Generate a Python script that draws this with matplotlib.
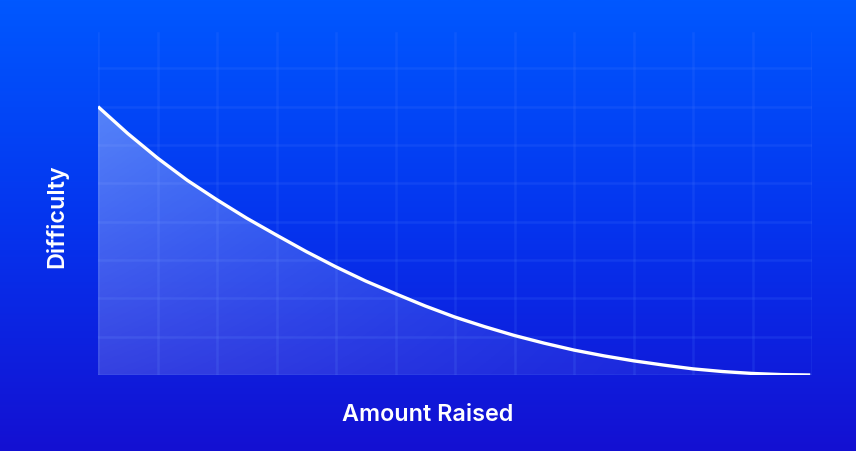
import numpy as np
import matplotlib
matplotlib.use('Agg')
import matplotlib.pyplot as plt
from matplotlib.colors import LinearSegmentedColormap

# Curve values (grid units)
amount_raised = [0, 0.5, 1, 1.5, 2, 2.5, 3, 3.5, 4, 4.5, 5, 5.5, 6, 6.5,
                 7, 7.5, 8, 8.5, 9, 9.5, 10, 10.5, 11, 11.5, 11.97]
difficulty = [7.0, 6.30, 5.66, 5.08, 4.57, 4.09, 3.65, 3.22, 2.82, 2.45,
              2.12, 1.80, 1.51, 1.26, 1.03, 0.83, 0.65, 0.50, 0.37, 0.26,
              0.16, 0.09, 0.04, 0.01, 0.0]
x_label = 'Amount Raised'
y_label = 'Difficulty'

W, H = 856, 451
fig = plt.figure(figsize=(W / 100, H / 100), dpi=100)

# background gradient
bg = fig.add_axes([0, 0, 1, 1])
bg_cmap = LinearSegmentedColormap.from_list(
    'bg', [(0.0, '#0058ff'), (0.5, '#0534ee'), (1.0, '#1410d2')])
grad = np.linspace(0, 1, 256).reshape(-1, 1)
bg.imshow(grad, aspect='auto', cmap=bg_cmap, extent=[0, 1, 0, 1], origin='upper')
bg.set_axis_off()

# plot area
left, right, top, bottom = 98, 812, 30, 375
ax = fig.add_axes([left / W, 1 - bottom / H, (right - left) / W, (bottom - top) / H])
ax.patch.set_alpha(0)
ax.set_xlim(0, 12)
ax.set_ylim(0, 9)

for gx in range(13):
    ax.axvline(gx, ymin=0, ymax=0.99, color='#4d7dff', alpha=0.17, lw=1.8, zorder=1)
for gy in range(9):
    ax.axhline(gy, color='#4d7dff', alpha=0.17, lw=1.8, zorder=1)

# area under the curve with a fading white gradient
poly = ax.fill_between(amount_raised, difficulty, 0, color='none', zorder=2)
xx, yy = np.meshgrid(np.linspace(0, 1, 300), np.linspace(0, 1, 200))
alpha = 0.30 * (1 - xx) ** 1.1 * (0.45 + 0.55 * yy) + 0.03
rgba = np.zeros((200, 300, 4))
rgba[..., :3] = 1.0
rgba[..., 3] = alpha
img = ax.imshow(rgba, extent=[0, 12, 0, 7], origin='lower', aspect='auto', zorder=2)
img.set_clip_path(poly.get_paths()[0], transform=ax.transData)

ax.plot(amount_raised, difficulty, color='white', lw=2.4, solid_capstyle='butt', zorder=3)

for s in ax.spines.values():
    s.set_visible(False)
ax.set_xticks([])
ax.set_yticks([])

font = ['Inter', 'DejaVu Sans']
fig.text(428 / W, 1 - 415 / H, x_label, color='white', fontsize=16.8,
         fontweight='semibold', family=font, ha='center', va='center')
fig.text(57 / W, 1 - 216 / H, y_label, color='white', fontsize=16.8,
         fontweight='semibold', family=font, ha='center', va='center', rotation=90)

fig.savefig('out.png', dpi=100)
